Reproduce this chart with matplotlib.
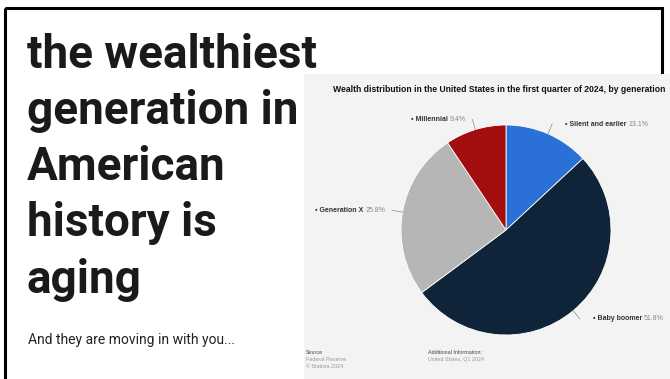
import numpy as np
import matplotlib
matplotlib.use('Agg')
import matplotlib.pyplot as plt
from matplotlib.patches import Rectangle

# Data
categories = ['Silent and earlier', 'Baby boomer', 'Generation X', 'Millennial']
shares = [13.1, 51.8, 25.8, 9.4]
colors = ['#2b70d7', '#0f2439', '#b6b6b6', '#a30d0d']

headline = ['the wealthiest', 'generation in', 'American', 'history is', 'aging']
subline = 'And they are moving in with you...'
chart_title = 'Wealth distribution in the United States in the first quarter of 2024, by generation'

W, H = 670, 379
fig = plt.figure(figsize=(W / 100, H / 100), dpi=100)
fig.patch.set_facecolor('white')

# Background axes in pixel coordinates (y down)
bg = fig.add_axes([0, 0, 1, 1])
bg.set_xlim(0, W)
bg.set_ylim(H, 0)
bg.axis('off')

# black frame
bg.add_patch(Rectangle((5, 8), 657, 400, fill=False, edgecolor='black', linewidth=2.2))

# headline
for i, line in enumerate(headline):
    bg.text(27, 67.5 + i * 56.3, line, fontsize=33, fontweight='bold', family='Roboto',
            color='#1a1a1a', va='baseline', ha='left')
bg.text(28, 344, subline, fontsize=10, family='Roboto', color='#222222', va='baseline')

# chart panel
bg.add_patch(Rectangle((304, 74), W - 304, H - 74, facecolor='#f3f3f3', edgecolor='none'))
bg.text(333, 89, chart_title, fontsize=6.2, fontweight='bold', family='Liberation Sans',
        color='#111111', va='center', ha='left', clip_on=True)

# footer
bg.text(306, 354, 'Source', fontsize=3.9, family='Liberation Sans', color='#444444', va='baseline')
bg.text(306, 361, 'Federal Reserve', fontsize=3.9, family='Liberation Sans', color='#999999', va='baseline')
bg.text(306, 368, '\u00a9 Statista 2024', fontsize=3.9, family='Liberation Sans', color='#999999', va='baseline')
bg.text(428, 354, 'Additional Information:', fontsize=3.9, family='Liberation Sans', color='#444444', va='baseline')
bg.text(428, 361, 'United States, Q1 2024', fontsize=3.9, family='Liberation Sans', color='#999999', va='baseline')

# pie
cx, cy, r = 506, 230, 105
ax = fig.add_axes([(cx - r) / W, (H - cy - r) / H, 2 * r / W, 2 * r / H])
wedges, _ = ax.pie(shares, colors=colors, startangle=90, counterclock=False,
                   wedgeprops=dict(edgecolor='white', linewidth=0.6))
ax.set_xlim(-1, 1)
ax.set_ylim(-1, 1)
ax.set_aspect('auto')

# labels with leader lines
fig.canvas.draw()
renderer = fig.canvas.get_renderer()
lab_fs = 5.0
for w, name, val in zip(wedges, categories, shares):
    ang = np.deg2rad((w.theta1 + w.theta2) / 2)
    c, s = np.cos(ang), np.sin(ang)
    x0, y0 = c * 1.0, s * 1.0
    x1, y1 = c * 1.1, s * 1.1
    ax.plot([x0, x1], [y0, y1], color='#888888', linewidth=0.5, clip_on=False)
    # convert elbow to pixel coords
    px, py = ax.transData.transform((x1, y1))
    py = H - py
    right = c > 0
    gap = 13 if right else 7
    if right:
        t1 = bg.text(px + gap, py, '\u2022 ' + name, fontsize=lab_fs, fontweight='bold',
                     family='Liberation Sans', color='#333333', va='center', ha='left')
        bb = t1.get_window_extent(renderer)
        bg.text(bb.x1 + 1.5, py, f'{val}%', fontsize=lab_fs, family='Liberation Sans',
                color='#888888', va='center', ha='left')
    else:
        t2 = bg.text(px - gap, py, f'{val}%', fontsize=lab_fs, family='Liberation Sans',
                     color='#888888', va='center', ha='right')
        bb = t2.get_window_extent(renderer)
        bg.text(bb.x0 - 1.5, py, '\u2022 ' + name, fontsize=lab_fs, fontweight='bold',
                family='Liberation Sans', color='#333333', va='center', ha='right')

fig.savefig('out.png', dpi=100)
